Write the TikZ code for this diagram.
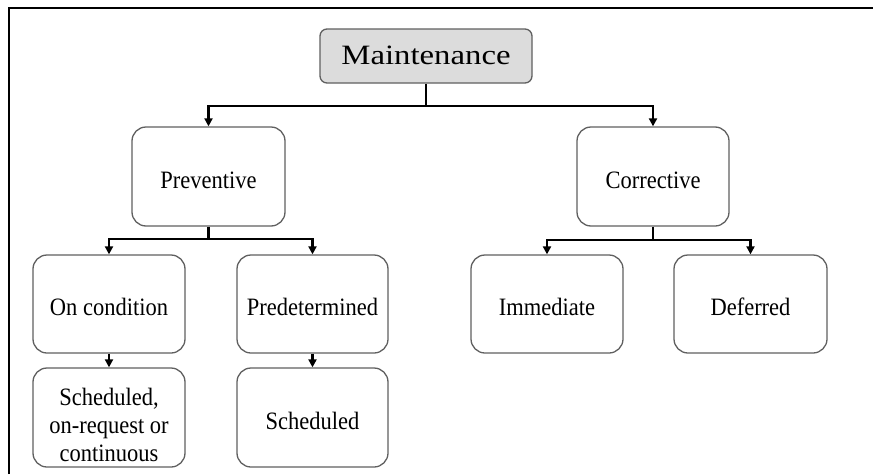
\documentclass[tikz,border=0pt]{standalone}
\usepackage{fontspec}
\setmainfont{Liberation Serif}
\newfontfamily\boxfont[FakeStretch=0.9]{Liberation Serif}
\newfontfamily\topfont[FakeStretch=1.17]{Liberation Serif}
\usetikzlibrary{arrows.meta}
\definecolor{boxgray}{HTML}{606060}
\definecolor{mainfill}{HTML}{DCDCDC}
\begin{document}
\begin{tikzpicture}[x=1pt,y=-1pt,
  box/.style={draw=boxgray, line width=1.3pt, rounded corners=14pt, inner sep=0pt,
    align=center, text=black, font=\boxfont\fontsize{25}{28}\selectfont,
    text height=23pt, text depth=0pt},
  conn/.style={line width=2.6pt, draw=black},
  arr/.style={conn, -{Triangle[length=8pt,width=8pt]}},
  frame/.style={line width=2pt, draw=black}]
\useasboundingbox (0,0) rectangle (873,474);
\draw[frame] (9,474) -- (9,8) -- (873,8);

\node[box, fill=mainfill, rounded corners=7pt, minimum width=212pt, minimum height=54pt,
  font=\topfont\fontsize{28}{32}\selectfont, text height=16pt, text depth=0pt] (M) at (426,56) {Maintenance};

\node[box, minimum width=153pt, minimum height=99pt] (P) at (208.5,176.5) {Preventive};
\node[box, minimum width=152pt, minimum height=99pt] (C) at (653,176.5) {Corrective};

\node[box, minimum width=152pt, minimum height=98pt] (OC) at (109,304) {On condition};
\node[box, minimum width=151pt, minimum height=98pt] (PD) at (312.5,304) {Predetermined};
\node[box, minimum width=152pt, minimum height=99pt,
  label={[align=center, text=black, inner sep=0pt, yshift=-7pt, font=\boxfont\fontsize{25}{28}\selectfont]center:{Scheduled,\\on-request or\\continuous}}] (S1) at (109,417.5) {};
\node[box, minimum width=151pt, minimum height=99pt] (S2) at (312.5,417.5) {Scheduled};

\node[box, minimum width=152pt, minimum height=98pt] (I) at (547,304) {Immediate};
\node[box, minimum width=153pt, minimum height=98pt] (D) at (750.5,304) {Deferred};

\coordinate (j0) at (M.south |- 0,106);
\coordinate (j1) at (P.south |- 0,239);
\coordinate (j2) at (C.south |- 0,240);

\draw[conn] (M.south) -- (j0);
\draw[arr] (j0) -| (P.north);
\draw[arr] (j0) -| (C.north);

\draw[conn] (P.south) -- (j1);
\draw[arr] (j1) -| (OC.north);
\draw[arr] (j1) -| (PD.north);

\draw[conn] (C.south) -- (j2);
\draw[arr] (j2) -| (I.north);
\draw[arr] (j2) -| (D.north);

\draw[arr] (OC.south) -- (S1.north);
\draw[arr] (PD.south) -- (S2.north);
\end{tikzpicture}
\end{document}
